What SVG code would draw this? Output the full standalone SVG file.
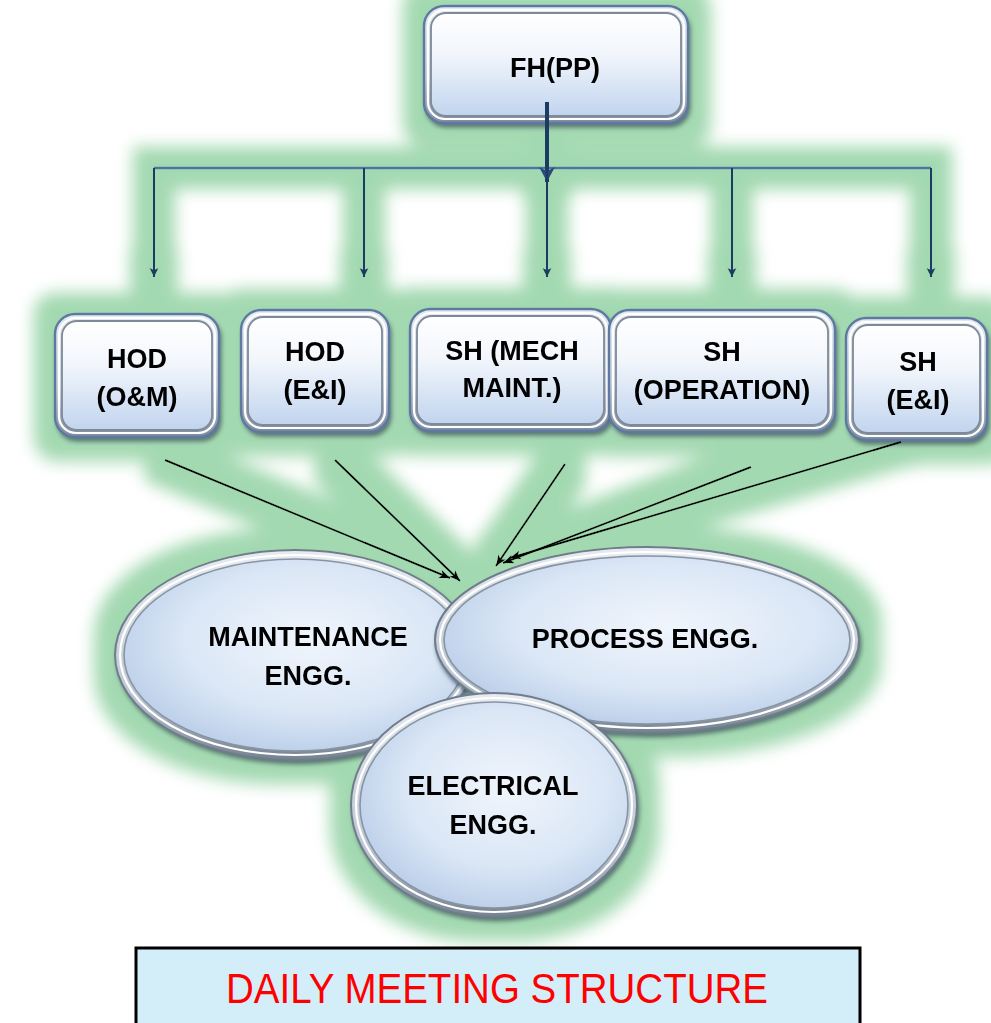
<svg xmlns="http://www.w3.org/2000/svg" width="991" height="1023" viewBox="0 0 991 1023">
<defs>
<style>
.lbl{font-family:"Liberation Sans",Arial,sans-serif;font-weight:bold;font-size:27px;fill:#000;text-anchor:middle}
.frame{fill:url(#frameG);stroke:#5d79a1;stroke-width:2.4}
.face{fill:url(#faceG);stroke:#7f8a98;stroke-width:1.8}
.hl{fill:none;stroke:#ffffff;stroke-width:2.2}
.eframe{fill:url(#eframeG);stroke:#6f7c8c;stroke-width:2}
.eface{fill:url(#efaceG);stroke:#8894a2;stroke-width:1.6}
.bar{stroke:#4d72a3;stroke-width:2.6;fill:none}
.drop{stroke:#1f3a63;stroke-width:2;fill:none;marker-end:url(#ab)}
.blk{stroke:#000;stroke-width:2;fill:none;marker-end:url(#ak)}
</style>
<linearGradient id="frameG" x1="0" y1="0" x2="0" y2="1">
<stop offset="0" stop-color="#e4eaf1"/><stop offset="0.6" stop-color="#c3ccd8"/><stop offset="1" stop-color="#7f8c9d"/>
</linearGradient>
<linearGradient id="faceG" x1="0" y1="0" x2="0" y2="1">
<stop offset="0" stop-color="#ffffff"/><stop offset="0.4" stop-color="#f2f6fc"/><stop offset="1" stop-color="#c1d4ee"/>
</linearGradient>
<linearGradient id="eframeG" x1="0" y1="0" x2="0" y2="1">
<stop offset="0" stop-color="#e6ebf1"/><stop offset="0.7" stop-color="#bcc6d2"/><stop offset="1" stop-color="#75828f"/>
</linearGradient>
<radialGradient id="efaceG" cx="0.55" cy="0.42" r="0.62">
<stop offset="0" stop-color="#f0f5fc"/><stop offset="0.6" stop-color="#dbe7f6"/><stop offset="1" stop-color="#b9cde8"/>
</radialGradient>
<filter id="glow" x="-10%" y="-10%" width="120%" height="120%">
<feMorphology in="SourceAlpha" operator="dilate" radius="20" result="d"/>
<feGaussianBlur in="d" stdDeviation="8" result="b"/>
<feFlood flood-color="#a3d9b1"/>
<feComposite in2="b" operator="in" result="g"/>
<feMerge><feMergeNode in="g"/><feMergeNode in="SourceGraphic"/></feMerge>
</filter>
<filter id="sh" x="-10%" y="-10%" width="125%" height="130%">
<feGaussianBlur in="SourceAlpha" stdDeviation="2" result="s"/>
<feOffset dx="2" dy="4" result="o"/>
<feFlood flood-color="#3a4a60" flood-opacity="0.8"/>
<feComposite in2="o" operator="in" result="so"/>
<feMerge><feMergeNode in="so"/><feMergeNode in="SourceGraphic"/></feMerge>
</filter>
<marker id="ab" markerUnits="userSpaceOnUse" markerWidth="9" markerHeight="11" refX="9" refY="4.5" orient="auto" viewBox="0 0 9 9">
<path d="M0,0 L9,4.5 L0,9 L2,4.5 z" fill="#1f3a63"/>
</marker>
<marker id="abig" markerUnits="userSpaceOnUse" markerWidth="15" markerHeight="16" refX="15" refY="8" orient="auto" viewBox="0 0 15 16">
<path d="M0,0 L15,8 L0,16 L4,8 z" fill="#2a4a78"/>
</marker>
<marker id="ak" markerUnits="userSpaceOnUse" markerWidth="11" markerHeight="9" refX="11" refY="4.5" orient="auto" viewBox="0 0 11 9">
<path d="M0,0 L11,4.5 L0,9 L3,4.5 z" fill="#000"/>
</marker>
</defs>
<rect width="991" height="1023" fill="#ffffff"/>
<g id="diagram" filter="url(#glow)">
<g id="node-fh" filter="url(#sh)">
<rect class="frame" x="424" y="6" width="264" height="117" rx="20"/>
<rect class="hl" x="428" y="10" width="256" height="109" rx="17"/>
<rect class="face" x="431" y="13" width="250" height="103" rx="15"/>
<text class="lbl" x="555" y="77">FH(PP)</text>
</g>
<g id="node-hod-om" filter="url(#sh)">
<rect class="frame" x="55" y="314" width="164" height="123" rx="20"/>
<rect class="hl" x="59" y="318" width="156" height="115" rx="17"/>
<rect class="face" x="62" y="321" width="150" height="109" rx="15"/>
<text class="lbl" x="137" y="368">HOD</text>
<text class="lbl" x="137" y="406">(O&amp;M)</text>
</g>
<g id="node-hod-ei" filter="url(#sh)">
<rect class="frame" x="241" y="310" width="148" height="122" rx="20"/>
<rect class="hl" x="245" y="314" width="140" height="114" rx="17"/>
<rect class="face" x="248" y="317" width="134" height="108" rx="15"/>
<text class="lbl" x="315" y="361">HOD</text>
<text class="lbl" x="315" y="399">(E&amp;I)</text>
</g>
<g id="node-sh-mech" filter="url(#sh)">
<rect class="frame" x="410" y="309" width="201" height="122" rx="20"/>
<rect class="hl" x="414" y="313" width="193" height="114" rx="17"/>
<rect class="face" x="417" y="316" width="187" height="108" rx="15"/>
<text class="lbl" x="512" y="360">SH (MECH</text>
<text class="lbl" x="512" y="397">MAINT.)</text>
</g>
<g id="node-sh-op" filter="url(#sh)">
<rect class="frame" x="609" y="310" width="226" height="122" rx="20"/>
<rect class="hl" x="613" y="314" width="218" height="114" rx="17"/>
<rect class="face" x="616" y="317" width="212" height="108" rx="15"/>
<text class="lbl" x="722" y="361">SH</text>
<text class="lbl" x="722" y="399">(OPERATION)</text>
</g>
<g id="node-sh-ei" filter="url(#sh)">
<rect class="frame" x="846" y="318" width="141" height="122" rx="20"/>
<rect class="hl" x="850" y="322" width="133" height="114" rx="17"/>
<rect class="face" x="853" y="325" width="127" height="108" rx="15"/>
<text class="lbl" x="918" y="371">SH</text>
<text class="lbl" x="918" y="409">(E&amp;I)</text>
</g>
<g id="node-maint" filter="url(#sh)">
<ellipse class="eframe" cx="295" cy="655" rx="180" ry="105"/>
<ellipse class="hl" cx="295" cy="655" rx="175" ry="100"/>
<ellipse class="eface" cx="295" cy="655" rx="171" ry="96"/>
<text class="lbl" x="308" y="646">MAINTENANCE</text>
<text class="lbl" x="308" y="685">ENGG.</text>
</g>
<g id="node-process" filter="url(#sh)">
<ellipse class="eframe" cx="647" cy="640" rx="212" ry="93"/>
<ellipse class="hl" cx="647" cy="640" rx="207" ry="88"/>
<ellipse class="eface" cx="647" cy="640" rx="203" ry="84"/>
<text class="lbl" x="645" y="648">PROCESS ENGG.</text>
</g>
<g id="node-elec" filter="url(#sh)">
<ellipse class="eframe" cx="494" cy="805" rx="143" ry="112"/>
<ellipse class="hl" cx="494" cy="805" rx="138" ry="107"/>
<ellipse class="eface" cx="494" cy="805" rx="134" ry="103"/>
<text class="lbl" x="493" y="795">ELECTRICAL</text>
<text class="lbl" x="493" y="834">ENGG.</text>
</g>
<g id="connectors">
<line class="bar" x1="154" y1="168" x2="931" y2="168"/>
<line x1="547" y1="102" x2="547" y2="182" stroke="#1f3a63" stroke-width="4" marker-end="url(#abig)"/>
<line class="drop" x1="154" y1="168" x2="154" y2="277"/>
<line class="drop" x1="364" y1="168" x2="364" y2="277"/>
<line class="drop" x1="547" y1="168" x2="547" y2="277"/>
<line class="drop" x1="732" y1="168" x2="732" y2="277"/>
<line class="drop" x1="931" y1="168" x2="931" y2="277"/>
<line class="blk" x1="165" y1="460" x2="450" y2="578"/>
<line class="blk" x1="335" y1="460" x2="460" y2="581"/>
<line class="blk" x1="565" y1="464" x2="496" y2="566"/>
<line class="blk" x1="751" y1="467" x2="503" y2="563"/>
<line class="blk" x1="901" y1="442" x2="510" y2="558"/>
</g>
</g>
<g id="title">
<rect x="136" y="948" width="724" height="90" fill="#d3eef9" stroke="#000" stroke-width="3"/>
<text x="497" y="1003" font-family="'Liberation Sans',Arial,sans-serif" font-size="42" fill="#ff0000" text-anchor="middle" textLength="542" lengthAdjust="spacingAndGlyphs">DAILY MEETING STRUCTURE</text>
</g>
</svg>
